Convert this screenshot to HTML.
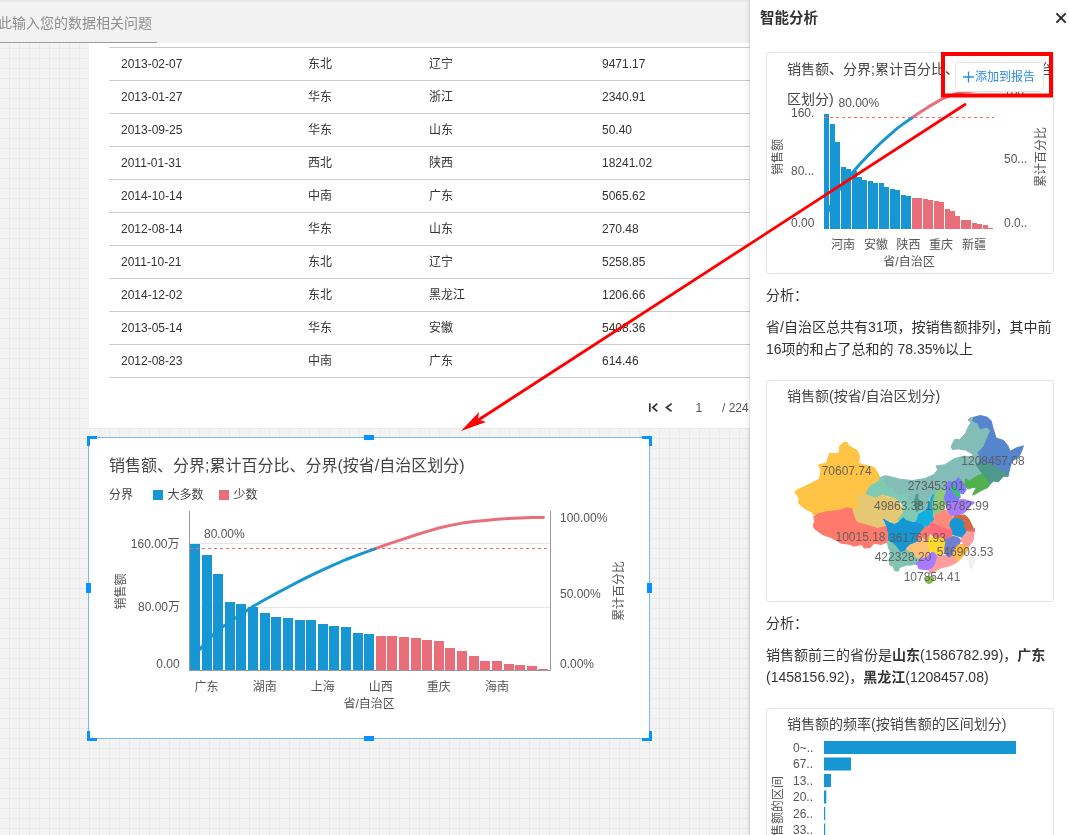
<!DOCTYPE html>
<html lang="zh-CN">
<head>
<meta charset="utf-8">
<title>智能分析</title>
<style>
*{box-sizing:border-box;margin:0;padding:0}
html,body{width:1069px;height:835px;overflow:hidden}
body{position:relative;font-family:"Liberation Sans","Noto Sans CJK SC",sans-serif;color:#333;font-size:12px;
 background-color:#f3f3f3;
 background-image:linear-gradient(to right,#eaeaea 1px,transparent 1px),linear-gradient(to bottom,#eaeaea 1px,transparent 1px);
 background-size:10px 10px;background-position:9px 8px;}
.abs{position:absolute}
#topbar{left:0;top:0;width:750px;height:43px;background:#f2f2f2;border-top:2px solid #e9e9e9}
#ask{left:-2px;top:15.5px;font-size:14px;line-height:14px;color:#8e8e8e;white-space:nowrap}
#askline{left:0;top:42px;width:157px;height:1px;background:#9a9a9a}
#page{left:89px;top:43px;width:661px;height:385px;background:#fff}
.row{left:109px;width:641px;height:33px;border-top:1px solid #ccc;}
.row span{position:absolute;top:0;line-height:32px;font-size:12px;color:#333;white-space:nowrap}
.c1{left:12px}.c2{left:199px}.c3{left:320px}.c4{left:493px}
#pager{left:640px;top:398px;height:18px;font-size:12px;color:#555}
#sel{left:88px;top:437px;width:562px;height:302px;background:#fff;border:1px solid #7ab8f6}
.h{position:absolute;background:#1890ff}
#panel{left:750px;top:0;width:319px;height:835px;background:#fff;box-shadow:-1px 0 0 rgba(0,0,0,.07),-3px 0 3px rgba(0,0,0,.05)}
.card{position:absolute;left:16px;width:288px;height:222px;border:1px solid #e3e3e6;border-radius:3px;background:#fff}
.ctitle{position:absolute;left:20px;font-size:14px;color:#444;white-space:nowrap}
.txt{position:absolute;left:16px;font-size:14px;line-height:22px;color:#333;white-space:nowrap}
svg text{font-family:"Liberation Sans","Noto Sans CJK SC",sans-serif}
</style>
</head>
<body>
<div id="topbar" class="abs"></div>
<div id="ask" class="abs">此输入您的数据相关问题</div>
<div id="askline" class="abs"></div>
<div id="page" class="abs"></div>
<div class="row abs" style="top:47px"><span class="c1">2013-02-07</span><span class="c2">东北</span><span class="c3">辽宁</span><span class="c4">9471.17</span></div>
<div class="row abs" style="top:80px"><span class="c1">2013-01-27</span><span class="c2">华东</span><span class="c3">浙江</span><span class="c4">2340.91</span></div>
<div class="row abs" style="top:113px"><span class="c1">2013-09-25</span><span class="c2">华东</span><span class="c3">山东</span><span class="c4">50.40</span></div>
<div class="row abs" style="top:146px"><span class="c1">2011-01-31</span><span class="c2">西北</span><span class="c3">陕西</span><span class="c4">18241.02</span></div>
<div class="row abs" style="top:179px"><span class="c1">2014-10-14</span><span class="c2">中南</span><span class="c3">广东</span><span class="c4">5065.62</span></div>
<div class="row abs" style="top:212px"><span class="c1">2012-08-14</span><span class="c2">华东</span><span class="c3">山东</span><span class="c4">270.48</span></div>
<div class="row abs" style="top:245px"><span class="c1">2011-10-21</span><span class="c2">东北</span><span class="c3">辽宁</span><span class="c4">5258.85</span></div>
<div class="row abs" style="top:278px"><span class="c1">2014-12-02</span><span class="c2">东北</span><span class="c3">黑龙江</span><span class="c4">1206.66</span></div>
<div class="row abs" style="top:311px"><span class="c1">2013-05-14</span><span class="c2">华东</span><span class="c3">安徽</span><span class="c4">5408.36</span></div>
<div class="row abs" style="top:344px"><span class="c1">2012-08-23</span><span class="c2">中南</span><span class="c3">广东</span><span class="c4">614.46</span></div>
<div class="row abs" style="top:377px;height:1px"></div>
<svg class="abs" style="left:0;top:0" width="750" height="835" viewBox="0 0 750 835">
 <g fill="none" stroke="#333" stroke-width="1.7">
  <path d="M649.8 403.2v8.6M657.2 403.6l-4.4 3.9l4.4 3.9"/>
  <path d="M671.6 403.6l-5.2 3.9l5.2 3.9"/>
 </g>
 <text x="695.5" y="411.5" font-size="12" fill="#555">1</text>
 <text x="722" y="411.5" font-size="12" fill="#555">/ 224</text>
</svg>

<div id="sel" class="abs"></div>
<svg class="abs" style="left:0;top:0" width="750" height="835" viewBox="0 0 750 835">
 <g fill="#0593ff">
  <path d="M87 436h10v3h-7v7h-3z"/>
  <path d="M652 436h-10v3h7v7h3z"/>
  <path d="M87 741h10v-3h-7v-7h-3z"/>
  <path d="M652 741h-10v-3h7v-7h3z"/>
  <rect x="364" y="435" width="10" height="5"/>
  <rect x="364" y="736" width="10" height="5"/>
  <rect x="86" y="583" width="5" height="10"/>
  <rect x="647" y="583" width="5" height="10"/>
 </g>
 <text x="109" y="470.5" font-size="16" fill="#444">销售额、分界;累计百分比、分界(按省/自治区划分)</text>
 <text x="109" y="499.3" font-size="12" fill="#444">分界</text>
 <rect x="153" y="490" width="10" height="10" fill="#1696d2"/>
 <text x="167.5" y="499.3" font-size="12" fill="#444">大多数</text>
 <rect x="219" y="490" width="10" height="10" fill="#e86f7a"/>
 <text x="233.5" y="499.3" font-size="12" fill="#444">少数</text>
<line x1="190" y1="543.5" x2="550" y2="543.5" stroke="#e6e6e6"/>
<line x1="190" y1="607.5" x2="550" y2="607.5" stroke="#e6e6e6"/>
<g shape-rendering="crispEdges">
<rect x="190.00" y="544.00" width="10.00" height="126.00" fill="#1696d2"/>
<rect x="201.61" y="554.90" width="10.00" height="115.10" fill="#1696d2"/>
<rect x="213.23" y="574.20" width="10.00" height="95.80" fill="#1696d2"/>
<rect x="224.84" y="602.00" width="10.00" height="68.00" fill="#1696d2"/>
<rect x="236.45" y="604.10" width="10.00" height="65.90" fill="#1696d2"/>
<rect x="248.06" y="607.10" width="10.00" height="62.90" fill="#1696d2"/>
<rect x="259.68" y="613.10" width="10.00" height="56.90" fill="#1696d2"/>
<rect x="271.29" y="617.00" width="10.00" height="53.00" fill="#1696d2"/>
<rect x="282.90" y="618.10" width="10.00" height="51.90" fill="#1696d2"/>
<rect x="294.52" y="620.00" width="10.00" height="50.00" fill="#1696d2"/>
<rect x="306.13" y="620.00" width="10.00" height="50.00" fill="#1696d2"/>
<rect x="317.74" y="624.10" width="10.00" height="45.90" fill="#1696d2"/>
<rect x="329.36" y="626.20" width="10.00" height="43.80" fill="#1696d2"/>
<rect x="340.97" y="627.10" width="10.00" height="42.90" fill="#1696d2"/>
<rect x="352.58" y="633.10" width="10.00" height="36.90" fill="#1696d2"/>
<rect x="364.19" y="634.00" width="10.00" height="36.00" fill="#1696d2"/>
<rect x="375.81" y="636.00" width="10.00" height="34.00" fill="#e86f7a"/>
<rect x="387.42" y="636.00" width="10.00" height="34.00" fill="#e86f7a"/>
<rect x="399.03" y="637.10" width="10.00" height="32.90" fill="#e86f7a"/>
<rect x="410.65" y="638.10" width="10.00" height="31.90" fill="#e86f7a"/>
<rect x="422.26" y="640.10" width="10.00" height="29.90" fill="#e86f7a"/>
<rect x="433.87" y="641.20" width="10.00" height="28.80" fill="#e86f7a"/>
<rect x="445.49" y="648.10" width="10.00" height="21.90" fill="#e86f7a"/>
<rect x="457.10" y="651.10" width="10.00" height="18.90" fill="#e86f7a"/>
<rect x="468.71" y="656.00" width="10.00" height="14.00" fill="#e86f7a"/>
<rect x="480.32" y="661.00" width="10.00" height="9.00" fill="#e86f7a"/>
<rect x="491.94" y="661.00" width="10.00" height="9.00" fill="#e86f7a"/>
<rect x="503.55" y="664.20" width="10.00" height="5.80" fill="#e86f7a"/>
<rect x="515.16" y="665.10" width="10.00" height="4.90" fill="#e86f7a"/>
<rect x="526.78" y="666.20" width="10.00" height="3.80" fill="#e86f7a"/>
<rect x="538.39" y="669.20" width="10.00" height="0.80" fill="#e86f7a"/>
</g>
<polyline fill="none" stroke="#e86f7a" stroke-width="3" stroke-linecap="round" stroke-linejoin="round" points="375.0,548.8 380.8,546.7 392.4,542.7 404.0,538.8 415.6,535.0 427.3,531.4 438.9,528.0 450.5,525.4 462.1,523.1 473.7,521.5 485.3,520.4 496.9,519.3 508.6,518.6 520.2,518.0 531.8,517.6 543.4,517.5"/><polyline fill="none" stroke="#1696d2" stroke-width="3" stroke-linecap="round" stroke-linejoin="round" points="195.0,655.0 206.6,641.3 218.2,629.9 229.8,621.8 241.5,613.9 253.1,606.4 264.7,599.7 276.3,593.4 287.9,587.2 299.5,581.2 311.1,575.3 322.7,569.8 334.4,564.6 346.0,559.5 357.6,555.1 369.2,550.8 375.0,548.8"/>
<line x1="190" y1="548.5" x2="550" y2="548.5" stroke="#f06a6a" stroke-dasharray="3,3"/>
<line x1="189.5" y1="511" x2="189.5" y2="670.5" stroke="#999"/>
<line x1="550.5" y1="511" x2="550.5" y2="670.5" stroke="#999"/>
<line x1="189" y1="670.5" x2="551" y2="670.5" stroke="#999"/>
 <g font-size="12" fill="#555">
  <text x="204" y="537.5">80.00%</text>
  <text x="179.5" y="548" text-anchor="end">160.00万</text>
  <text x="180" y="611" text-anchor="end">80.00万</text>
  <text x="179.7" y="667.5" text-anchor="end">0.00</text>
  <text x="560" y="522">100.00%</text>
  <text x="560" y="598">50.00%</text>
  <text x="560" y="667.5">0.00%</text>
  <g text-anchor="middle">
   <text x="206.6" y="690.5">广东</text>
   <text x="264.7" y="690.5">湖南</text>
   <text x="322.7" y="690.5">上海</text>
   <text x="380.8" y="690.5">山西</text>
   <text x="438.8" y="690.5">重庆</text>
   <text x="496.9" y="690.5">海南</text>
   <text x="369.2" y="707.5">省/自治区</text>
   <text transform="translate(125,591.5) rotate(-90)">销售额</text>
   <text transform="translate(622.5,591) rotate(-90)">累计百分比</text>
  </g>
 </g>
</svg>

<div id="panel" class="abs">
 <div class="abs" style="left:10px;top:9px;font-size:14.5px;font-weight:bold;color:#333;line-height:18px">智能分析</div>
 <svg class="abs" style="left:305px;top:12px" width="12" height="12" viewBox="0 0 12 12"><path d="M1.4 1.4l9.3 9.3M10.7 1.4l-9.3 9.3" stroke="#2a2a2a" stroke-width="1.9" fill="none"/></svg>

 <div class="card" style="top:52px">
  <div class="ctitle" style="top:1px;line-height:30px;white-space:normal;width:266px;height:60px;overflow:hidden;word-break:break-all">销售额、分界;累计百分比、分界(按省/自治区划分)</div>
 </div>
 <div class="txt" style="top:284px">分析：</div>
 <div class="txt" style="top:316px">省/自治区总共有31项，按销售额排列，其中前<br>16项的和占了总和的 78.35%以上</div>

 <div class="card" style="top:380px">
  <div class="ctitle" style="top:0px;line-height:30px">销售额(按省/自治区划分)</div>
 </div>
 <div class="txt" style="top:612px">分析：</div>
 <div class="txt" style="top:644px">销售额前三的省份是<b>山东</b>(1586782.99)，<b>广东</b><br>(1458156.92)，<b>黑龙江</b>(1208457.08)</div>

 <div class="card" style="top:708px">
  <div class="ctitle" style="top:0px;line-height:30px">销售额的频率(按销售额的区间划分)</div>
 </div>
</div>

<svg class="abs" style="left:0;top:0" width="1069" height="835" viewBox="0 0 1069 835">
<g shape-rendering="crispEdges">
<rect x="824.20" y="114.09" width="5.00" height="114.41" fill="#1696d2"/>
<rect x="829.67" y="123.99" width="5.00" height="104.51" fill="#1696d2"/>
<rect x="835.14" y="141.51" width="5.00" height="86.99" fill="#1696d2"/>
<rect x="840.61" y="166.76" width="5.00" height="61.74" fill="#1696d2"/>
<rect x="846.08" y="168.66" width="5.00" height="59.84" fill="#1696d2"/>
<rect x="851.55" y="171.39" width="5.00" height="57.11" fill="#1696d2"/>
<rect x="857.02" y="176.83" width="5.00" height="51.67" fill="#1696d2"/>
<rect x="862.49" y="180.38" width="5.00" height="48.12" fill="#1696d2"/>
<rect x="867.96" y="181.37" width="5.00" height="47.13" fill="#1696d2"/>
<rect x="873.43" y="183.10" width="5.00" height="45.40" fill="#1696d2"/>
<rect x="878.90" y="183.10" width="5.00" height="45.40" fill="#1696d2"/>
<rect x="884.37" y="186.82" width="5.00" height="41.68" fill="#1696d2"/>
<rect x="889.84" y="188.73" width="5.00" height="39.77" fill="#1696d2"/>
<rect x="895.31" y="189.55" width="5.00" height="38.95" fill="#1696d2"/>
<rect x="900.78" y="194.99" width="5.00" height="33.51" fill="#1696d2"/>
<rect x="906.25" y="195.81" width="5.00" height="32.69" fill="#1696d2"/>
<rect x="911.72" y="197.63" width="5.00" height="30.87" fill="#e86f7a"/>
<rect x="917.19" y="197.63" width="5.00" height="30.87" fill="#e86f7a"/>
<rect x="922.66" y="198.63" width="5.00" height="29.87" fill="#e86f7a"/>
<rect x="928.13" y="199.53" width="5.00" height="28.97" fill="#e86f7a"/>
<rect x="933.60" y="201.35" width="5.00" height="27.15" fill="#e86f7a"/>
<rect x="939.07" y="202.35" width="5.00" height="26.15" fill="#e86f7a"/>
<rect x="944.54" y="208.61" width="5.00" height="19.89" fill="#e86f7a"/>
<rect x="950.01" y="211.34" width="5.00" height="17.16" fill="#e86f7a"/>
<rect x="955.48" y="215.79" width="5.00" height="12.71" fill="#e86f7a"/>
<rect x="960.95" y="220.33" width="5.00" height="8.17" fill="#e86f7a"/>
<rect x="966.42" y="220.33" width="5.00" height="8.17" fill="#e86f7a"/>
<rect x="971.89" y="223.23" width="5.00" height="5.27" fill="#e86f7a"/>
<rect x="977.36" y="224.05" width="5.00" height="4.45" fill="#e86f7a"/>
<rect x="982.83" y="225.05" width="5.00" height="3.45" fill="#e86f7a"/>
<rect x="988.30" y="227.77" width="5.00" height="0.73" fill="#e86f7a"/>
</g>
<polyline fill="none" stroke="#e86f7a" stroke-width="3" stroke-linecap="round" stroke-linejoin="round" points="911.5,118.2 914.2,116.3 919.7,112.6 925.2,109.1 930.6,105.6 936.1,102.4 941.6,99.2 947.0,96.9 952.5,94.8 958.0,93.3 963.5,92.3 968.9,91.4 974.4,90.7 979.9,90.2 985.3,89.8 990.8,89.7"/><polyline fill="none" stroke="#1696d2" stroke-width="3" stroke-linecap="round" stroke-linejoin="round" points="826.7,214.8 832.2,202.4 837.6,192.0 843.1,184.6 848.6,177.5 854.1,170.7 859.5,164.5 865.0,158.7 870.5,153.1 875.9,147.7 881.4,142.3 886.9,137.3 892.3,132.6 897.8,127.9 903.3,123.9 908.8,120.0 911.5,118.2"/>
<line x1="824" y1="117.5" x2="994" y2="117.5" stroke="#f06a6a" stroke-dasharray="3,3"/>
 <g font-size="12" fill="#555">
  <text x="838.5" y="107">80.00%</text>
  <text x="791" y="117">160.</text>
  <text x="791" y="175">80...</text>
  <text x="791" y="227">0.00</text>
  <text x="1004" y="163">50...</text>
  <text x="1004" y="227">0.0..</text>
  <text x="1004" y="96">100.</text>
  <g text-anchor="middle">
   <text x="843" y="249">河南</text>
   <text x="876" y="249">安徽</text>
   <text x="908.5" y="249">陕西</text>
   <text x="941" y="249">重庆</text>
   <text x="974" y="249">新疆</text>
   <text x="909" y="266">省/自治区</text>
   <text transform="translate(782,157) rotate(-90)">销售额</text>
   <text transform="translate(1044.5,157) rotate(-90)">累计百分比</text>
  </g>
 </g>
<g stroke-linejoin="round">
<polygon fill="#84bcb8" stroke="#84bcb8" stroke-width="1" points="900.0,479.3 912.2,480.5 924.3,478.7 934.1,474.5 937.7,469.6 935.9,465.9 945.0,464.7 948.6,462.3 954.7,458.6 963.2,456.2 971.7,456.8 973.0,454.4 965.7,450.1 958.4,448.9 952.3,449.5 951.1,446.5 954.7,439.2 959.6,439.8 965.7,433.1 967.5,428.2 971.1,422.2 968.1,420.3 969.9,417.9 973.6,417.3 973.0,420.9 977.8,423.4 980.3,428.8 987.0,427.0 990.6,430.7 986.3,440.4 983.9,446.5 977.8,452.6 980.3,457.4 979.0,462.3 976.0,464.7 980.3,470.8 982.7,473.8 976.6,476.3 969.3,481.1 965.7,483.0 960.8,485.4 953.5,487.8 948.6,490.3 946.2,495.1 936.5,497.6 928.9,499.0 928.0,513.0 917.0,513.0 915.0,503.0 910.9,503.6 903.0,500.0 897.0,495.0 893.4,490.0 887.3,487.0 883.0,482.0 882.0,476.5 886.0,475.8 893.4,477.5 897.0,478.5"/>
<polygon fill="#7fcab5" stroke="#7fcab5" stroke-width="1" points="879.4,477.1 883.1,477.5 885.0,482.7 887.2,487.2 892.5,488.7 894.0,491.3 898.4,495.4 901.4,494.7 907.4,493.2 908.5,494.7 906.7,498.4 910.4,501.4 914.9,499.9 914.9,505.9 916.4,511.2 920.9,510.8 926.1,513.0 923.9,514.9 919.4,516.0 919.4,519.4 916.4,522.4 911.9,524.6 909.7,522.8 906.7,519.4 902.9,517.9 898.8,522.4 896.9,517.9 899.9,515.7 902.2,510.8 903.3,507.4 901.4,502.9 897.7,499.9 892.5,497.7 888.0,495.8 882.0,494.7 877.5,498.1 870.0,496.2 865.5,495.1 865.9,491.7 869.3,485.0 874.5,483.5 876.7,481.2"/>
<polygon fill="#4d998b" stroke="#4d998b" stroke-width="1" points="916.8,494.0 918.3,494.7 917.5,497.7 918.7,499.9 922.4,502.2 921.6,505.2 918.7,505.9 918.3,510.4 916.4,511.3 914.9,505.9 914.8,499.9 915.7,496.2"/>
<polygon fill="#ffc445" stroke="#ffc445" stroke-width="1" points="843.5,442.6 847.2,442.2 848.4,445.3 853.2,448.3 857.5,450.7 859.6,456.2 858.7,462.9 863.0,464.7 873.9,467.2 876.6,470.8 879.4,476.3 878.2,480.5 872.7,483.0 867.8,487.8 864.8,493.9 865.4,494.0 856.3,497.0 859.3,501.9 858.7,508.0 853.2,508.6 847.2,507.4 838.6,509.8 826.5,511.0 818.0,513.4 813.7,515.3 811.9,512.2 804.6,508.6 798.5,503.1 799.1,498.2 794.9,492.2 795.5,490.9 801.6,487.8 808.2,484.8 819.2,479.3 821.0,470.8 818.6,464.7 825.3,463.5 827.1,461.1 829.5,453.2 835.0,453.8 839.3,452.6 839.3,446.5"/>
<polygon fill="#ff7a6b" stroke="#ff7a6b" stroke-width="1" points="813.7,516.5 818.0,514.1 826.5,511.6 838.6,510.4 847.2,507.7 853.2,509.2 854.5,515.3 856.9,521.3 867.8,524.4 877.6,527.4 884.9,525.6 887.3,528.0 888.5,533.5 887.3,542.0 881.2,544.5 873.9,543.2 870.3,547.5 864.2,548.1 861.7,544.5 853.2,546.3 850.8,544.5 841.1,543.2 835.0,539.6 830.1,537.2 822.8,534.7 814.3,528.6 813.1,525.0 814.9,521.3"/>
<polygon fill="#e6c773" stroke="#e6c773" stroke-width="1" points="856.3,497.0 865.4,494.3 875.1,498.2 882.4,494.6 887.3,497.0 894.6,498.2 899.4,503.1 903.1,511.0 900.1,516.5 897.0,517.7 898.2,522.0 894.6,523.8 889.7,521.3 884.9,518.3 883.6,521.3 884.9,525.6 877.6,527.4 867.8,524.4 856.9,521.3 854.5,515.3 853.2,509.2 858.7,508.0 859.3,501.9"/>
<polygon fill="#7fc4b0" stroke="#7fc4b0" stroke-width="1" points="887.3,542.0 892.2,542.3 897.0,545.9 900.1,551.4 903.1,551.4 906.7,545.7 910.4,543.2 906.8,544.5 906.8,549.3 910.4,551.7 914.1,553.0 915.3,556.6 921.3,559.0 915.3,563.9 911.6,565.1 906.7,565.1 899.4,567.6 898.2,571.2 894.6,570.6 893.4,566.3 889.7,565.1 889.1,560.3 890.9,553.0 888.5,548.1"/>
<polygon fill="#1696d2" stroke="#1696d2" stroke-width="1" points="883.6,518.9 889.7,522.6 894.6,524.4 898.2,522.6 903.1,517.7 906.8,520.7 912.8,522.6 916.5,522.0 921.3,524.0 926.2,527.4 923.8,528.6 920.1,533.5 916.5,537.2 918.9,540.8 915.9,544.5 912.8,545.1 910.4,546.3 907.4,548.1 904.3,550.3 900.7,551.7 897.0,546.3 892.2,542.0 888.5,540.8 888.5,533.5 887.3,528.0 886.1,525.0"/>
<polygon fill="#ffc078" stroke="#ffc078" stroke-width="1" points="906.1,548.7 909.8,545.1 915.3,543.0 920.1,540.3 923.8,539.1 927.7,540.3 928.6,545.7 929.9,551.1 929.9,554.2 926.2,557.8 921.3,559.0 915.3,556.6 914.1,553.0 910.4,551.7"/>
<polygon fill="#a77bff" stroke="#a77bff" stroke-width="1" points="915.3,563.9 921.3,559.0 926.2,557.8 929.9,554.2 932.3,551.7 934.7,552.4 937.2,556.0 937.2,559.0 935.9,562.7 933.5,567.6 929.3,570.0 923.8,569.4 918.9,568.8 917.7,565.1"/>
<polygon fill="#ff9c9c" stroke="#ff9c9c" stroke-width="1" points="937.2,557.8 942.0,555.4 946.3,555.4 949.3,557.2 953.0,556.0 955.4,558.4 957.8,561.5 954.2,563.9 948.1,566.3 942.0,567.6 937.2,570.0 932.3,572.4 929.9,573.6 929.3,570.0 933.5,567.6 935.9,562.7"/>
<polygon fill="#ffd92f" stroke="#ffd92f" stroke-width="1" points="928.6,537.2 934.7,537.2 940.8,537.2 945.7,538.4 945.7,543.2 944.5,549.3 942.0,554.2 937.2,555.4 934.7,551.7 929.9,551.1 928.6,545.7 927.4,540.8"/>
<polygon fill="#7080d0" stroke="#7080d0" stroke-width="1" points="945.7,538.4 949.3,537.2 953.0,536.5 957.8,537.2 960.9,540.2 959.0,544.5 955.4,548.1 953.0,554.2 949.3,557.2 946.3,555.4 944.5,549.3 945.7,543.2"/>
<polygon fill="#ffbb44" stroke="#ffbb44" stroke-width="1" points="959.0,544.5 963.9,544.5 968.8,546.3 967.6,550.5 963.9,555.4 960.3,559.0 957.8,561.5 955.4,557.8 953.0,554.2 955.4,548.1"/>
<polygon fill="#ff9c9c" stroke="#ff9c9c" stroke-width="1" points="966.3,529.9 970.6,531.1 974.2,533.5 973.6,538.4 972.4,542.0 968.8,546.3 963.9,544.5 960.9,540.2 961.5,537.2 965.1,532.9"/>
<polygon fill="#ff6b7a" stroke="#ff6b7a" stroke-width="1" points="932.3,522.0 937.2,524.4 943.2,526.8 948.1,528.6 951.7,528.6 953.0,534.7 949.3,537.2 945.7,538.4 940.8,537.2 934.7,537.2 929.9,533.5 926.2,532.3 929.9,528.6 928.6,525.0"/>
<polygon fill="#ff7a6b" stroke="#ff7a6b" stroke-width="1" points="926.9,526.0 930.3,527.9 926.2,532.3 929.9,533.5 928.6,537.2 927.4,540.8 922.6,537.2 918.9,540.8 916.5,537.2 920.1,533.5 923.8,528.6"/>
<polygon fill="#ff8c7a" stroke="#ff8c7a" stroke-width="1" points="933.5,515.3 938.4,513.4 943.2,509.8 948.1,511.0 950.5,515.3 954.2,517.7 950.5,521.3 949.9,526.2 951.7,528.6 948.1,528.6 943.2,526.8 937.2,524.4 932.3,522.0 933.5,520.1"/>
<polygon fill="#1696d2" stroke="#1696d2" stroke-width="1" points="950.5,521.3 954.2,517.7 957.8,517.7 961.5,518.9 965.1,522.6 963.9,526.2 966.3,529.9 965.1,532.9 961.5,537.2 957.8,535.9 953.0,534.7 952.4,529.9 949.9,526.2"/>
<polygon fill="#d4693f" stroke="#d4693f" stroke-width="1" points="954.2,515.3 959.0,514.7 965.1,515.3 968.8,518.9 971.2,523.8 973.0,527.4 970.6,531.1 966.3,529.9 963.9,526.2 965.1,522.6 961.5,518.9 957.8,517.7 954.2,517.7"/>
<polygon fill="#e86878" stroke="#e86878" stroke-width="1" points="972.1,527.7 974.6,528.6 974.4,531.7 972.4,532.0 971.2,530.5"/>
<polygon fill="#a77bff" stroke="#a77bff" stroke-width="1" points="948.1,511.0 945.7,503.1 949.9,500.7 953.0,502.5 957.8,500.1 963.9,499.5 970.0,501.3 974.9,502.5 971.2,504.9 967.6,509.2 963.9,512.8 957.8,514.7 954.2,515.3 950.5,515.3"/>
<polygon fill="#0fb0e0" stroke="#0fb0e0" stroke-width="1" points="933.5,494.0 931.1,498.2 928.6,504.3 926.2,510.4 918.9,514.1 916.5,521.3 921.3,523.8 927.4,526.2 929.9,522.6 933.5,520.1 932.3,515.3 933.5,510.4 932.3,504.3 934.7,495.8"/>
<polygon fill="#8fc97a" stroke="#8fc97a" stroke-width="1" points="937.2,490.9 943.2,489.7 946.3,492.2 944.5,497.0 945.7,503.1 943.2,509.2 938.4,512.8 933.5,514.7 933.5,510.4 932.3,504.3 934.7,495.8"/>
<polygon fill="#7b7bff" stroke="#7b7bff" stroke-width="1" points="958.4,477.5 963.2,483.0 964.5,485.4 966.3,489.7 963.2,493.9 959.6,492.7 960.2,497.6 957.2,500.0 959.0,495.8 957.8,500.1 953.0,502.5 949.9,500.7 945.7,503.1 944.5,497.0 946.3,492.2 946.8,493.9 946.2,487.8 948.6,481.1 953.5,483.0"/>
<polygon fill="#2ecc5a" stroke="#2ecc5a" stroke-width="1" points="951.7,487.8 954.1,486.0 956.2,487.8 955.3,491.5 952.3,492.7"/>
<polygon fill="#2ecc5a" stroke="#2ecc5a" stroke-width="1" points="956.2,491.7 959.0,492.1 959.6,495.7 957.2,497.3 955.9,494.5"/>
<polygon fill="#52b04f" stroke="#52b04f" stroke-width="1" points="982.7,473.8 987.0,478.1 990.0,484.2 987.6,487.8 982.7,489.7 975.4,493.9 972.4,495.1 974.8,490.3 976.6,487.2 971.7,487.8 968.1,489.0 964.5,485.4 965.7,478.7 969.3,481.1 976.6,476.3"/>
<polygon fill="#4d998b" stroke="#4d998b" stroke-width="1" points="976.0,464.7 979.0,462.3 982.7,463.5 987.6,462.3 992.4,464.7 997.3,467.2 1000.9,469.6 1004.6,470.8 1008.8,472.6 1008.2,476.3 1003.4,476.3 998.5,481.7 993.6,481.1 990.0,484.2 987.0,478.1 982.7,473.8 980.3,470.8"/>
<polygon fill="#5585cc" stroke="#5585cc" stroke-width="1" points="973.6,417.3 980.3,415.5 987.6,417.3 991.2,420.9 993.0,428.2 996.1,438.0 1003.4,440.4 1007.6,445.3 1010.1,451.3 1016.7,447.7 1023.4,445.9 1021.6,451.3 1018.6,457.4 1011.9,461.1 1010.1,467.2 1008.8,472.6 1004.6,470.8 1000.9,469.6 997.3,467.2 992.4,464.7 987.6,462.3 982.7,463.5 979.0,462.3 980.3,457.4 977.8,452.6 983.9,446.5 986.3,440.4 990.6,430.7 987.0,427.0 980.3,428.8 977.8,423.4 973.0,420.9"/>
<polygon fill="#8bc34a" stroke="#8bc34a" stroke-width="1" points="926.0,578.0 930.0,576.3 934.2,577.5 933.0,581.5 929.0,583.8 925.5,582.0"/>
<polygon fill="#f0f0f0" stroke="#f0f0f0" stroke-width="1" points="970.6,557.8 973.6,556.0 975.1,559.0 973.6,565.1 971.2,568.8 969.4,565.1 969.0,560.9"/>
</g>
<g font-size="12" fill="#5a5a5a" fill-opacity="0.92" text-anchor="middle">
<text x="846.7" y="475.3">70607.74</text>
<text x="993" y="464.7">1208457.08</text>
<text x="936" y="490.3">273453.01</text>
<text x="899" y="510.3">49863.38</text>
<text x="957" y="510.3">1586782.99</text>
<text x="860.5" y="541.3">10015.18</text>
<text x="917.5" y="542.3">361761.93</text>
<text x="903" y="561.3">422328.20</text>
<text x="965" y="556.3">546903.53</text>
<text x="932" y="581.3">107854.41</text>
</g>
 <!-- third card: histogram -->
 <g fill="#1696d2">
  <rect x="824" y="741" width="192" height="13"/>
  <rect x="824" y="757.5" width="27" height="13"/>
  <rect x="824" y="774" width="7" height="13"/>
  <rect x="824" y="790.5" width="2.3" height="13"/>
  <rect x="824" y="807" width="1.2" height="13"/>
  <rect x="824" y="823.5" width="1.2" height="13"/>
 </g>
 <g font-size="12" fill="#555">
  <text x="793" y="751.5">0~..</text>
  <text x="793" y="768">67..</text>
  <text x="793" y="784.5">13..</text>
  <text x="793" y="801">20..</text>
  <text x="793" y="817.5">26..</text>
  <text x="793" y="834">33..</text>
  <text transform="translate(782,812) rotate(-90)" text-anchor="middle">销售额的区间</text>
 </g>

 <!-- add-to-report button -->
 <rect x="955.5" y="62.5" width="88" height="29" rx="3" fill="#fff" stroke="#e4e4e4"/>
 <path d="M963 77h11M968.5 71.5v11" stroke="#2b8ae0" stroke-width="1.3" fill="none"/>
 <text x="975" y="81" font-size="12" fill="#2b8ae0">添加到报告</text>
 <!-- highlight -->
 <rect x="943" y="54" width="108" height="41.5" fill="none" stroke="#ff0000" stroke-width="4"/>
 <line x1="965" y1="104.5" x2="476" y2="421.5" stroke="#ff0000" stroke-width="2.8" stroke-linecap="round"/>
 <path d="M461 431L479 412L478 419.5L486 422Z" fill="#ff0000"/>
</svg>
</body>
</html>
